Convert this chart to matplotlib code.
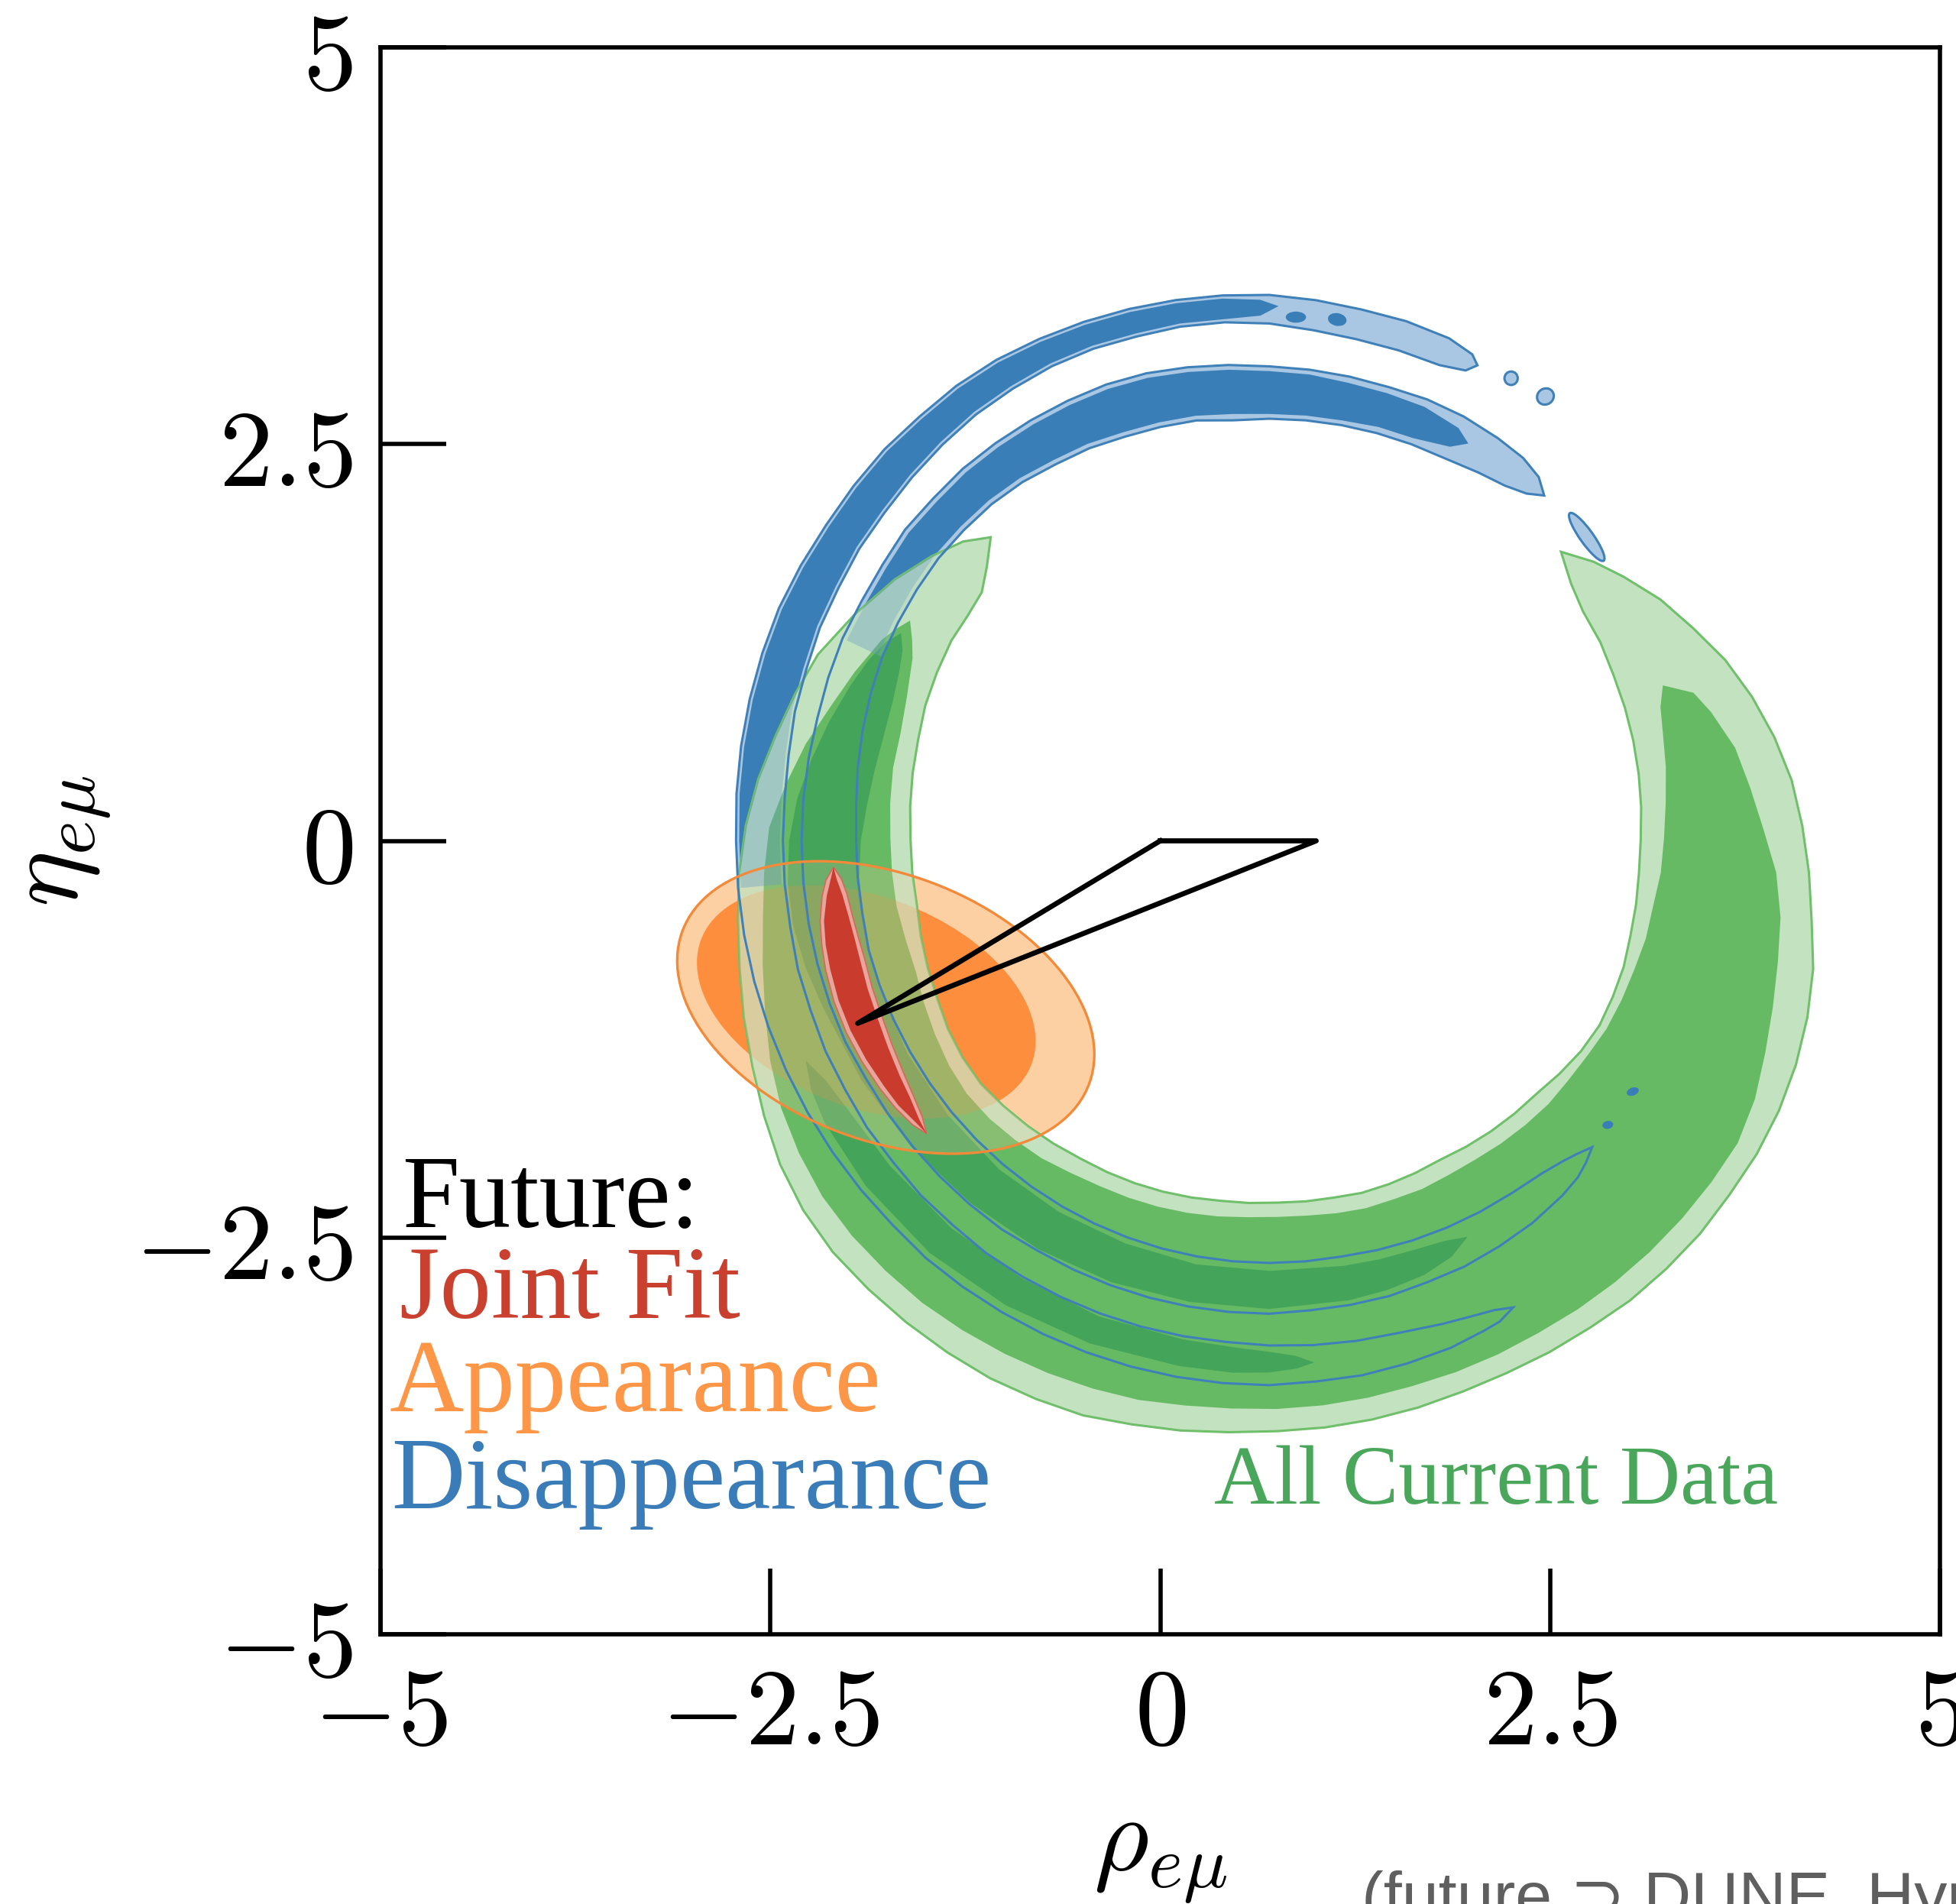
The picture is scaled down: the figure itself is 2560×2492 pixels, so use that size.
import numpy as np
import matplotlib
matplotlib.use("Agg")
import matplotlib.pyplot as plt
from matplotlib.patches import Polygon, Ellipse

plt.rcParams['mathtext.fontset'] = 'cm'

# ---------------- data ----------------
x_ticks = [-5, -2.5, 0, 2.5, 5]
y_ticks = [-5, -2.5, 0, 2.5, 5]
x_tick_labels = [r'$-5$', r'$-2.5$', r'$0$', r'$2.5$', r'$5$']
y_tick_labels = [r'$-5$', r'$-2.5$', r'$0$', r'$2.5$', r'$5$']

# Disappearance rings: boundaries as (angle [deg], radius) around a common centre
blue_centre = (0.7, 0.0)
ringA_theta = [66, 67, 70, 75, 80, 85, 90, 95, 100, 105, 110, 115, 120, 125, 130, 135, 140, 145,
               150, 155, 160, 165, 170, 175, 180, 185, 190, 195, 200, 205, 210, 215, 220, 225,
               230, 235, 240, 245, 250, 255, 260, 265, 270, 275, 280, 285, 290, 294, 296, 298]
ringA_r2out = [3.28, 3.33, 3.37, 3.39, 3.40, 3.42, 3.44, 3.45, 3.46, 3.47, 3.48, 3.49, 3.50, 3.50,
               3.49, 3.49, 3.48, 3.47, 3.47, 3.47, 3.46, 3.45, 3.44, 3.43, 3.42, 3.42, 3.42, 3.42,
               3.42, 3.42, 3.42, 3.42, 3.42, 3.42, 3.43, 3.43, 3.43, 3.43, 3.43, 3.43, 3.43, 3.43,
               3.43, 3.42, 3.42, 3.41, 3.40, 3.38, 3.37, 3.33]
ringA_r2in = [3.28, 3.22, 3.19, 3.20, 3.21, 3.23, 3.26, 3.28, 3.29, 3.29, 3.30, 3.30, 3.29, 3.28,
              3.26, 3.24, 3.22, 3.21, 3.19, 3.18, 3.16, 3.15, 3.13, 3.12, 3.12, 3.12, 3.12, 3.13,
              3.13, 3.14, 3.14, 3.15, 3.15, 3.16, 3.16, 3.17, 3.17, 3.17, 3.17, 3.17, 3.17, 3.17,
              3.18, 3.19, 3.20, 3.21, 3.24, 3.27, 3.29, 3.33]
ringA1_theta = [89, 91, 95, 100, 105, 110, 115, 120, 125, 130, 135, 140, 145, 150, 155, 160, 165,
                170, 175, 180, 185]
ringA1_rout = [3.37, 3.41, 3.43, 3.44, 3.45, 3.46, 3.47, 3.48, 3.48, 3.47, 3.47, 3.46, 3.45, 3.45,
               3.45, 3.44, 3.43, 3.42, 3.41, 3.40, 3.40]
ringA1_rin = [3.37, 3.31, 3.30, 3.31, 3.31, 3.32, 3.32, 3.31, 3.30, 3.28, 3.26, 3.24, 3.23, 3.21,
              3.20, 3.18, 3.17, 3.15, 3.14, 3.14, 3.14]

ringB_theta = [51, 53, 56, 60, 65, 70, 75, 80, 85, 90, 95, 100, 105, 110, 115, 120, 125, 130, 135,
               140, 145, 150, 155, 160, 165, 170, 175, 180, 185, 190, 195, 200, 205, 210, 215, 220,
               225, 230, 235, 240, 245, 250, 255, 260, 265, 270, 275, 280, 285, 290, 295, 300, 305,
               310, 313, 315, 317]
ringB_r2out = [2.80, 2.87, 2.91, 2.93, 2.95, 2.96, 2.96, 2.97, 2.98, 2.99, 3.01, 3.03, 3.05, 3.06,
               3.06, 3.06, 3.06, 3.06, 3.05, 3.05, 3.03, 3.02, 3.02, 3.01, 3.00, 3.00, 3.00, 3.00,
               3.00, 3.00, 3.00, 3.00, 3.00, 2.99, 2.99, 2.99, 2.99, 2.99, 2.99, 2.98, 2.98, 2.98,
               2.98, 2.98, 2.98, 2.98, 2.97, 2.97, 2.97, 2.96, 2.96, 2.95, 2.94, 2.92, 2.90, 2.87,
               2.83]
ringB_r2in = [2.80, 2.74, 2.70, 2.68, 2.66, 2.66, 2.66, 2.66, 2.66, 2.66, 2.66, 2.69, 2.70, 2.71,
              2.73, 2.74, 2.76, 2.77, 2.77, 2.77, 2.76, 2.75, 2.74, 2.72, 2.70, 2.68, 2.66, 2.65,
              2.65, 2.65, 2.66, 2.66, 2.66, 2.66, 2.66, 2.66, 2.66, 2.66, 2.66, 2.66, 2.66, 2.66,
              2.66, 2.66, 2.66, 2.66, 2.66, 2.66, 2.67, 2.68, 2.69, 2.70, 2.71, 2.73, 2.76, 2.79,
              2.83]
ringB1_theta = [63, 65, 70, 75, 80, 85, 90, 95, 100, 105, 110, 115, 120, 125, 130, 135, 140, 145,
                150, 155, 160]
ringB1_rout = [2.81, 2.87, 2.91, 2.92, 2.93, 2.95, 2.96, 2.98, 3.00, 3.02, 3.03, 3.03, 3.03, 3.03,
               3.03, 3.02, 3.02, 3.00, 2.99, 2.99, 2.98]
ringB1_rin = [2.81, 2.74, 2.70, 2.70, 2.69, 2.69, 2.69, 2.70, 2.72, 2.73, 2.74, 2.76, 2.77, 2.79,
              2.80, 2.80, 2.80, 2.79, 2.78, 2.77, 2.75]
ringA_fill_limit = 185   # blue fills vanish under the green beyond these angles
ringB_fill_limit = 155

blob_x = [2.25, 2.47, 2.735]
blob_y = [2.915, 2.80, 1.915]
blob_w = [0.085, 0.11, 0.37]
blob_h = [0.085, 0.10, 0.085]
blob_ang = [0, 30, -54]
dot_x = [0.87, 1.135, 3.03, 2.87]
dot_y = [3.30, 3.285, -1.58, -1.79]
dot_w = [0.13, 0.12, 0.08, 0.07]
dot_h = [0.07, 0.08, 0.05, 0.05]
dot_ang = [0, -10, 20, 10]

# All current data (green), boundaries around its centre
green_centre = (0.75, -0.2)
g3o_theta = [131, 134, 138, 143, 149, 155, 160, 165, 170, 175, 180, 185, 190, 195, 200, 205, 210,
             215, 220, 225, 230, 235, 240, 245, 250, 255, 260, 265, 270, 275, 280, 285, 290, 295,
             300, 305, 310, 315, 320, 325, 330, 335, 340, 345, 350, 355, 360, 365, 370, 375, 380,
             385, 390, 395, 400, 404, 408]
g3o_r = [2.80, 2.90, 2.98, 3.07, 3.16, 3.25, 3.29, 3.33, 3.38, 3.42, 3.45, 3.47, 3.50, 3.54, 3.58,
         3.63, 3.68, 3.71, 3.72, 3.71, 3.70, 3.69, 3.68, 3.66, 3.64, 3.60, 3.57, 3.54, 3.52, 3.51,
         3.50, 3.49, 3.48, 3.48, 3.49, 3.50, 3.52, 3.53, 3.54, 3.54, 3.55, 3.55, 3.54, 3.52, 3.49,
         3.44, 3.41, 3.38, 3.35, 3.30, 3.24, 3.17, 3.08, 3.00, 2.90, 2.82, 2.72]
g3i_theta = [131, 134, 137, 141, 145, 150, 155, 160, 165, 170, 175, 180, 185, 190, 195, 200, 205,
             210, 215, 220, 225, 230, 235, 240, 245, 250, 255, 260, 265, 270, 275, 280, 285, 290,
             295, 300, 305, 310, 315, 320, 325, 330, 335, 340, 345, 350, 355, 360, 365, 370, 375,
             380, 385, 390, 395, 400, 404, 408]
g3i_r = [2.80, 2.68, 2.59, 2.56, 2.55, 2.52, 2.49, 2.45, 2.42, 2.39, 2.36, 2.34, 2.32, 2.32, 2.32,
         2.32, 2.33, 2.33, 2.32, 2.29, 2.26, 2.23, 2.20, 2.18, 2.16, 2.14, 2.12, 2.10, 2.09, 2.08,
         2.08, 2.08, 2.09, 2.09, 2.09, 2.09, 2.11, 2.13, 2.15, 2.17, 2.21, 2.25, 2.28, 2.29, 2.30,
         2.30, 2.31, 2.32, 2.34, 2.37, 2.40, 2.43, 2.46, 2.49, 2.53, 2.56, 2.62, 2.72]
g2_theta = [146, 148, 150, 155, 160, 165, 170, 175, 180, 185, 190, 195, 200, 205, 210, 215, 220,
            225, 230, 235, 240, 245, 250, 255, 260, 265, 270, 275, 280, 285, 290, 295, 300, 305,
            310, 315, 320, 325, 330, 335, 340, 345, 350, 355, 360, 365, 370, 375, 380, 383, 385.5]
g2o_r = [2.84, 2.89, 2.93, 2.99, 3.05, 3.13, 3.20, 3.27, 3.29, 3.31, 3.35, 3.40, 3.46, 3.51, 3.54,
         3.56, 3.56, 3.55, 3.54, 3.52, 3.50, 3.48, 3.46, 3.44, 3.41, 3.39, 3.38, 3.37, 3.36, 3.35,
         3.35, 3.35, 3.35, 3.36, 3.37, 3.38, 3.39, 3.40, 3.41, 3.38, 3.33, 3.29, 3.26, 3.24, 3.20,
         3.13, 3.08, 3.04, 2.96, 2.90, 2.74]
g2i_r = [2.84, 2.76, 2.70, 2.62, 2.57, 2.55, 2.52, 2.49, 2.47, 2.45, 2.42, 2.40, 2.41, 2.42, 2.43,
         2.43, 2.41, 2.38, 2.35, 2.31, 2.28, 2.26, 2.24, 2.22, 2.20, 2.18, 2.17, 2.17, 2.18, 2.19,
         2.19, 2.20, 2.20, 2.21, 2.23, 2.25, 2.27, 2.28, 2.30, 2.33, 2.35, 2.37, 2.40, 2.42, 2.46,
         2.49, 2.53, 2.58, 2.63, 2.67, 2.74]
# 1-sigma green strips (around blue_centre)
g1a_theta = [151, 153, 156, 160, 165, 170, 175, 180, 185, 190, 195, 200, 210, 220, 230, 240, 250,
             260, 270, 280, 285, 290, 294, 297]
g1a_rout = [2.70, 2.76, 2.81, 2.86, 2.92, 2.98, 3.04, 3.08, 3.10, 3.10, 3.08, 3.05, 3.02, 3.00,
            2.98, 2.97, 2.96, 2.95, 2.95, 2.94, 2.93, 2.91, 2.87, 2.80]
g1a_rin = [2.70, 2.64, 2.60, 2.57, 2.56, 2.57, 2.59, 2.62, 2.64, 2.65, 2.66, 2.67, 2.68, 2.69,
           2.70, 2.70, 2.70, 2.71, 2.71, 2.72, 2.73, 2.74, 2.76, 2.80]
g1b_theta = [205, 208, 212, 220, 230, 240, 250, 260, 266, 270, 273, 275]
g1b_rout = [3.28, 3.33, 3.36, 3.38, 3.39, 3.38, 3.37, 3.36, 3.36, 3.35, 3.33, 3.30]
g1b_rin = [3.28, 3.22, 3.19, 3.18, 3.18, 3.18, 3.19, 3.19, 3.20, 3.22, 3.25, 3.30]

# Appearance (orange) regions: [2 sigma, 1 sigma]
app_cx = [-1.76, -1.885]
app_cy = [-1.05, -1.015]
app_w = [2.78, 2.26]
app_h = [1.68, 1.33]
app_ang = [-20, -20]

# Joint fit (red), thin arc around blue_centre
jf_theta = [183.4, 185, 187, 190, 193, 196, 200, 204, 208, 212, 215, 218, 220]
jf_rc = [2.80, 2.805, 2.81, 2.82, 2.825, 2.83, 2.84, 2.845, 2.85, 2.855, 2.86, 2.865, 2.87]
jf_hw2 = [0.0, 0.05, 0.08, 0.105, 0.12, 0.13, 0.13, 0.125, 0.11, 0.09, 0.07, 0.04, 0.0]
jf_hw1 = [0.0, 0.02, 0.05, 0.08, 0.095, 0.10, 0.10, 0.095, 0.08, 0.06, 0.045, 0.015, 0.0]

# triangle
tri_x = [0.0, 1.0, -1.94, 0.0]
tri_y = [0.0, 0.0, -1.15, 0.0]

# ---------------- helpers ----------------
def polar_xy(c, theta, r):
    t = np.radians(np.asarray(theta, float))
    r = np.asarray(r, float)
    return c[0] + r * np.cos(t), c[1] + r * np.sin(t)


def band(c, th_out, r_out, th_in, r_in):
    xo, yo = polar_xy(c, th_out, r_out)
    xi, yi = polar_xy(c, th_in, r_in)
    return np.column_stack([np.r_[xo, xi[::-1]], np.r_[yo, yi[::-1]]])


def cut(theta, *arrs, lim=None):
    th = np.asarray(theta, float)
    m = th <= lim
    return [th[m]] + [np.asarray(a, float)[m] for a in arrs]


# ---------------- figure ----------------
fig = plt.figure(figsize=(25.6, 24.92), dpi=100)
ax = fig.add_axes([0.19453, 0.14165, 0.79727, 0.83347])
ax.set_xlim(-5, 5)
ax.set_ylim(-5, 5)

BL_LIGHT, BL_DARK, BL_EDGE = '#a9c7e3', '#3a7eb7', '#3f80b8'
G_LIGHT, G_MED, G_DARK, G_EDGE = '#c3e2bf', '#67ba64', '#44a55a', '#6fbf6b'
O_LIGHT, O_DARK, O_EDGE = '#fdd0a4', '#fd8e3e', '#f28a3a'
R_LIGHT, R_DARK = '#e8a59c', '#c93c2d'

# blue fills (upper part only, the rest lies under the green)
blue_patches = []
t, ro, ri = cut(ringA_theta, ringA_r2out, ringA_r2in, lim=ringA_fill_limit)
blue_patches.append((band(blue_centre, t, ro, t, ri), BL_LIGHT))
t, ro, ri = cut(ringB_theta, ringB_r2out, ringB_r2in, lim=ringB_fill_limit)
blue_patches.append((band(blue_centre, t, ro, t, ri), BL_LIGHT))
t, ro, ri = cut(ringA1_theta, ringA1_rout, ringA1_rin, lim=ringA_fill_limit)
blue_patches.append((band(blue_centre, t, ro, t, ri), BL_DARK))
t, ro, ri = cut(ringB1_theta, ringB1_rout, ringB1_rin, lim=ringB_fill_limit)
blue_patches.append((band(blue_centre, t, ro, t, ri), BL_DARK))
for verts, col in blue_patches:
    ax.add_patch(Polygon(verts, closed=True, fc=col, ec='none', zorder=1))
for x, y, w, h, a in zip(blob_x, blob_y, blob_w, blob_h, blob_ang):
    ax.add_patch(Ellipse((x, y), w, h, angle=a, fc=BL_LIGHT, ec=BL_EDGE, lw=2.2, zorder=5))

# orange (appearance)
ax.add_patch(Ellipse((app_cx[0], app_cy[0]), app_w[0], app_h[0], angle=app_ang[0],
                     fc=O_LIGHT, ec='none', zorder=2))
ax.add_patch(Ellipse((app_cx[1], app_cy[1]), app_w[1], app_h[1], angle=app_ang[1],
                     fc=O_DARK, ec='none', zorder=2.1))

# green (all current data)
g_light = band(green_centre, g3o_theta, g3o_r, g3i_theta, g3i_r)
ax.add_patch(Polygon(g_light, closed=True, fc=G_LIGHT, ec=G_EDGE, lw=2.2, zorder=3))
ax.add_patch(Polygon(band(green_centre, g2_theta, g2o_r, g2_theta, g2i_r), closed=True,
                     fc=G_MED, ec='none', zorder=3.1))
ax.add_patch(Polygon(band(blue_centre, g1a_theta, g1a_rout, g1a_theta, g1a_rin), closed=True,
                     fc=G_DARK, ec='none', zorder=3.2))
ax.add_patch(Polygon(band(blue_centre, g1b_theta, g1b_rout, g1b_theta, g1b_rin), closed=True,
                     fc=G_DARK, ec='none', zorder=3.2))

# what lies underneath the translucent green shows through a little
clip = Polygon(g_light, closed=True, transform=ax.transData)
for i, col in enumerate([O_LIGHT, O_DARK]):
    e = Ellipse((app_cx[i], app_cy[i]), app_w[i], app_h[i], angle=app_ang[i],
                fc=col, ec='none', alpha=0.22, zorder=3.5)
    ax.add_patch(e)
    e.set_clip_path(clip)
for verts, col in blue_patches:
    p = Polygon(verts, closed=True, fc=col, ec='none', alpha=0.22, zorder=3.5)
    ax.add_patch(p)
    p.set_clip_path(clip)

# blue contour lines over everything
ax.add_patch(Polygon(band(blue_centre, ringA_theta, ringA_r2out, ringA_theta, ringA_r2in),
                     closed=True, fill=False, ec=BL_EDGE, lw=2.2, zorder=5))
ax.add_patch(Polygon(band(blue_centre, ringB_theta, ringB_r2out, ringB_theta, ringB_r2in),
                     closed=True, fill=False, ec=BL_EDGE, lw=2.2, zorder=5))
for x, y, w, h, a in zip(dot_x, dot_y, dot_w, dot_h, dot_ang):
    ax.add_patch(Ellipse((x, y), w, h, angle=a, fc=BL_DARK, ec='none', zorder=5))

# orange outline
ax.add_patch(Ellipse((app_cx[0], app_cy[0]), app_w[0], app_h[0], angle=app_ang[0],
                     fill=False, ec=O_EDGE, lw=2.4, zorder=5.5))

# red joint fit
rc = np.asarray(jf_rc)
ax.add_patch(Polygon(band(blue_centre, jf_theta, rc + np.asarray(jf_hw2), jf_theta,
                          rc - np.asarray(jf_hw2)), closed=True, fc=R_LIGHT, ec='#d8675a',
                     lw=1.2, zorder=6))
ax.add_patch(Polygon(band(blue_centre, jf_theta, rc + np.asarray(jf_hw1), jf_theta,
                          rc - np.asarray(jf_hw1)), closed=True, fc=R_DARK, ec='none', zorder=6.1))

# triangle
ax.plot(tri_x, tri_y, color='black', lw=4.8, solid_joinstyle='round', zorder=7)

# ---------------- axes styling ----------------
for s in ax.spines.values():
    s.set_linewidth(4)
ax.set_xticks(x_ticks)
ax.set_yticks(y_ticks)
ax.set_xticklabels(x_tick_labels)
ax.set_yticklabels(y_tick_labels)
ax.tick_params(direction='in', length=62, width=4, labelsize=102, top=False, right=False)
ax.tick_params(axis='x', pad=25)
ax.tick_params(axis='y', pad=26)

ax.set_xlabel(r'$\rho_{e\mu}$', fontsize=100)
ax.xaxis.label.set_va('center')
ax.xaxis.set_label_coords(0.5, -0.138)
ax.set_ylabel(r'$\eta_{e\mu}$', fontsize=100)
ax.yaxis.label.set_va('center')
ax.yaxis.set_label_coords(-0.205, 0.5)

serif = ['Liberation Serif', 'DejaVu Serif']
ax.text(-4.863, -2.434, 'Future:', color='black', fontsize=97, family=serif, va='baseline', zorder=8)
ax.text(-4.877, -3.007, 'Joint Fit', color='#c9402f', fontsize=97, family=serif, va='baseline', zorder=8)
ax.text(-4.945, -3.594, 'Appearance', color='#fd9646', fontsize=97, family=serif, va='baseline', zorder=8)
ax.text(-4.930, -4.206, 'Disappearance', color='#3a7cb8', fontsize=96, family=serif, va='baseline', zorder=8)
ax.text(0.345, -4.177, 'All Current Data', color='#4aa65a', fontsize=79, family=serif, va='baseline', zorder=8)

fig.text(1782 / 2560, -18 / 2492, '(future \u2283 DUNE, Hyper-K)', color='#5f5f5f', fontsize=62,
         family=['Liberation Sans', 'DejaVu Sans'], va='baseline', ha='left')

fig.savefig('out.png', dpi=100)
